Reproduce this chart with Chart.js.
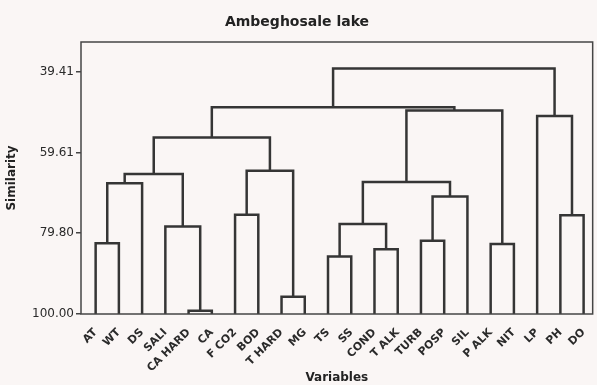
<!DOCTYPE html>
<html>
<head>
<meta charset="utf-8">
<script src="https://cdn.jsdelivr.net/npm/chart.js@4"></script>
<style>
  body { margin: 0; background: #faf6f5; }
  #wrap { width: 597px; height: 385px; }
</style>
</head>
<body>
<div id="wrap"><canvas id="graficoDendro" width="597" height="385"></canvas></div>
<script>
// variables (leaf order as drawn)
var leaves = ['AT','WT','DS','SALI','CA HARD','CA','F CO2','BOD','T HARD','MG','TS','SS','COND','T ALK','TURB','POSP','SIL','P ALK','NIT','LP','PH','DO'];

// merges: 0..21 are leaves, 22.. are the clusters made by each merge in order
var mergeA = [4, 8, 10, 12, 17, 0, 14, 3, 24, 20, 6, 28, 27, 30, 34, 32, 36, 19, 35, 38, 41];
var mergeB = [5, 9, 11, 13, 18, 1, 15, 22, 25, 21, 7, 16, 2, 33, 29, 23, 37, 31, 26, 40, 39];
var similarity = [99.2, 95.7, 85.6, 83.8, 82.5, 82.3, 81.7, 78.1, 77.5, 75.3, 75.2, 70.6, 67.3, 67.0, 65.0, 64.2, 55.9, 50.5, 49.1, 48.3, 38.6];

var yTicks = [39.41, 59.61, 79.80, 100.00];

// position of every node: leaves at their index, clusters in the middle of their children
var nodeX = [];
var nodeY = [];
for (var i = 0; i < leaves.length; i++) {
  nodeX.push(i);
  nodeY.push(100);
}

var datasets = [];
for (var m = 0; m < mergeA.length; m++) {
  var a = mergeA[m];
  var b = mergeB[m];
  var h = similarity[m];
  datasets.push({
    data: [
      {x: nodeX[a], y: nodeY[a]},
      {x: nodeX[a], y: h},
      {x: nodeX[b], y: h},
      {x: nodeX[b], y: nodeY[b]}
    ],
    borderColor: '#353535',
    borderWidth: 2.5,
    pointRadius: 0,
    fill: false,
    tension: 0
  });
  nodeX.push((nodeX[a] + nodeX[b]) / 2);
  nodeY.push(h);
}

var fondo = {
  id: 'fondo',
  beforeDraw: function(chart) {
    var c = chart.ctx;
    c.save();
    c.fillStyle = '#faf6f5';
    c.fillRect(0, 0, chart.width, chart.height);
    c.restore();
  },
  afterDraw: function(chart) {
    var a = chart.chartArea;
    var c = chart.ctx;
    c.save();
    c.strokeStyle = '#454545';
    c.lineWidth = 1.5;
    c.strokeRect(a.left, a.top, a.right - a.left, a.bottom - a.top);
    c.restore();
  }
};

var contexto = document.getElementById('graficoDendro').getContext('2d');
var myChart = new Chart(contexto, {
  type: 'line',
  data: { datasets: datasets },
  plugins: [fondo],
  options: {
    responsive: false,
    animation: false,
    layout: { padding: { left: 0, right: 3, top: 0, bottom: 0 } },
    plugins: {
      legend: { display: false },
      tooltip: { enabled: false },
      title: {
        display: true,
        text: 'Ambeghosale lake',
        color: '#222',
        font: { family: 'DejaVu Sans', size: 14, weight: 'bold' },
        padding: { top: 14, bottom: 11.2 }
      }
    },
    scales: {
      x: {
        type: 'linear',
        min: -0.63,
        max: 21.39,
        border: { display: false },
        grid: { display: false },
        afterBuildTicks: function(scale) {
          scale.ticks = leaves.map(function(l, i) { return {value: i}; });
        },
        afterFit: function(scale) { scale.height = 71; },
        ticks: {
          autoSkip: false,
          minRotation: 45,
          maxRotation: 45,
          padding: 4,
          color: '#2a2a2a',
          font: { family: 'DejaVu Sans', size: 11, weight: 'bold' },
          callback: function(v) { return leaves[v]; }
        },
        title: {
          display: true,
          text: 'Variables',
          color: '#222',
          font: { family: 'DejaVu Sans', size: 12, weight: 'bold' },
          padding: { top: -5, bottom: 0 }
        }
      },
      y: {
        type: 'linear',
        reverse: true,
        min: 32.0,
        max: 100,
        border: { display: false },
        grid: { drawOnChartArea: false, drawTicks: true, tickLength: 5, color: '#454545', lineWidth: 1.5 },
        afterBuildTicks: function(scale) {
          scale.ticks = yTicks.map(function(v) { return {value: v}; });
        },
        afterFit: function(scale) { scale.width = 81; },
        ticks: {
          padding: 2,
          color: '#2a2a2a',
          font: { family: 'DejaVu Sans', size: 12 },
          callback: function(v) { return v.toFixed(2); }
        },
        title: {
          display: true,
          text: 'Similarity',
          color: '#222',
          font: { family: 'DejaVu Sans', size: 12, weight: 'bold' },
          padding: { top: 4.8, bottom: 0 }
        }
      }
    }
  }
});
</script>
</body>
</html>
